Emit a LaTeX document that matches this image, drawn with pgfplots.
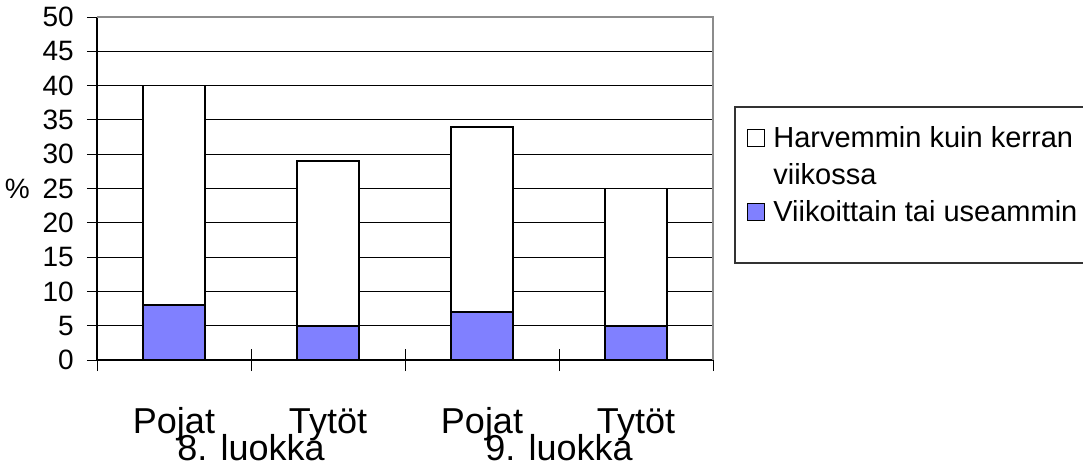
\documentclass[border=0pt]{standalone}
\usepackage{fontspec}
\setmainfont{Liberation Sans}
\usepackage{pgfplots}
\pgfplotsset{compat=1.18}
\definecolor{barblue}{RGB}{128,128,255}
\definecolor{bordergray}{RGB}{140,140,140}
\begin{document}
\begin{tikzpicture}
\path[use as bounding box] (-72.75pt,-81pt) rectangle (739.5pt,270pt);
\begin{axis}[
  at={(0,0)}, anchor=south west,
  scale only axis, width=462pt, height=257.25pt,
  xmin=-0.5, xmax=3.5, ymin=0, ymax=50,
  axis x line*=bottom, axis y line*=left,
  axis line style={-, black, line width=0.9pt},
  ytick={0,5,...,50},
  ymajorgrids, major grid style={black, line width=0.7pt},
  tick align=center,
  major tick length=15pt, minor tick length=16.5pt,
  tick style={black, line width=0.7pt},
  major x tick style={draw=none},
  xtick={0,1,2,3},
  xticklabels={Pojat,Tytöt,Pojat,Tytöt},
  minor xtick={-0.5,0.5,1.5,2.5,3.5},
  /pgf/number format/assume math mode=true,
  yticklabel style={font=\fontsize{21}{25}\selectfont, anchor=east, inner sep=0pt, xshift=-9.75pt},
  xticklabel style={font=\fontsize{27}{32}\selectfont, anchor=base, inner sep=0pt, yshift=-47.25pt},
  extra x ticks={0.5,2.5},
  extra x tick labels={8. luokka,9. luokka},
  extra x tick style={major tick length=0pt, tick style={draw=none}, xticklabel style={yshift=-27.75pt}},
  ylabel={\%},
  ylabel style={rotate=-90, at={(axis description cs:0,0.5)}, anchor=east, inner sep=0pt, xshift=-50.25pt, font=\fontsize{21}{25}\selectfont},
  ybar stacked, bar width=46.5pt,
  legend style={at={(axis description cs:1.05519,0.68222)}, anchor=north west,
    draw=none, fill=none, inner sep=0pt, row sep=7.5pt, column sep=6pt,
    nodes={inner sep=0pt, text height=15.75pt, text depth=4.5pt, font=\fontsize{21.75}{26}\selectfont}},
  legend cell align=left,
  legend entries={Harvemmin kuin kerran, viikossa, Viikoittain tai useammin},
  sqlegend/.style={legend image code/.code={\draw[##1, draw=black, line width=0.8pt] (0pt,-5pt) rectangle (12.75pt,7.75pt);}},
]
\addlegendimage{sqlegend, fill=white}
\addlegendimage{empty legend}
\addlegendimage{sqlegend, fill=barblue}
\addplot[fill=barblue, draw=black, line width=1.25pt] coordinates {(0,8) (1,5) (2,7) (3,5)};
\addplot[fill=white, draw=black, line width=1.25pt] coordinates {(0,32) (1,24) (2,27) (3,20)};
\end{axis}
\draw[bordergray, line width=1.1pt] (0,257.25pt) -- (462pt,257.25pt) -- (462pt,0);
\draw[black!80, line width=0.8pt] (744.75pt,189.75pt) -- (478.5pt,189.75pt) -- (478.5pt,72.75pt) -- (744.75pt,72.75pt);
\end{tikzpicture}
\end{document}
